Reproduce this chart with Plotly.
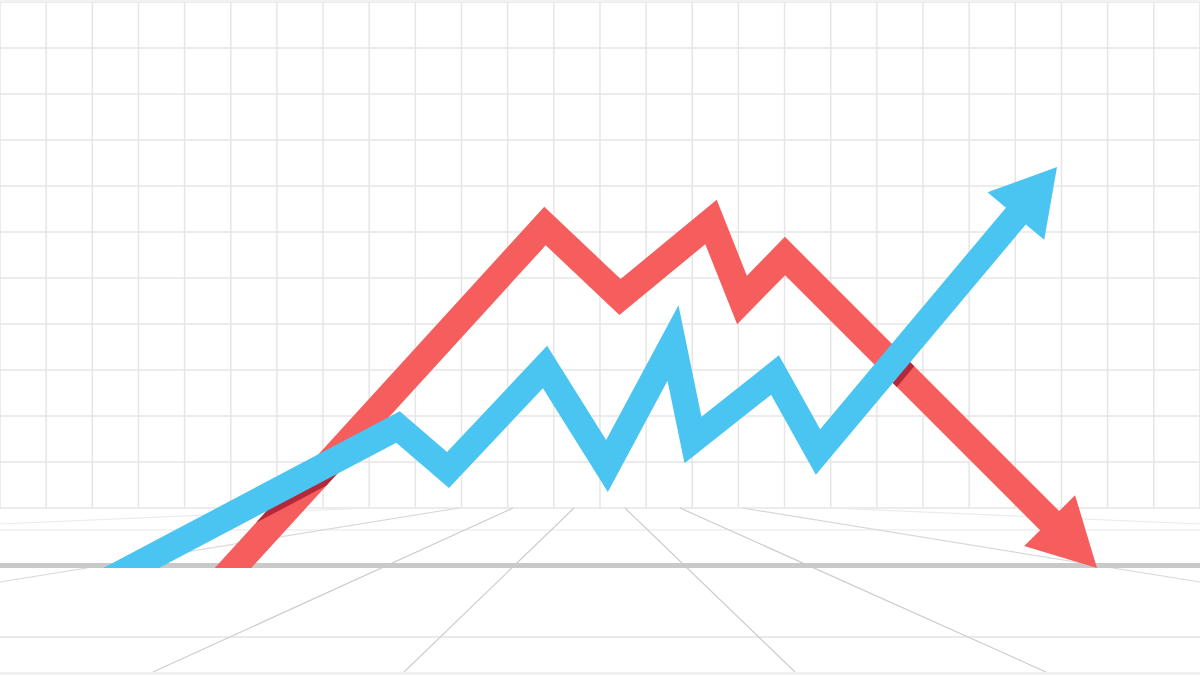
import numpy as np
import plotly.graph_objects as go

# ---------------- data (x in px from left, value = height above the floor line) ----------------
red_x = [233, 545, 620, 711, 742, 785, 1097]
red_y = [0, 342, 271, 346, 268, 312, 0]

blue_x = [131, 398, 448, 545, 607, 673, 693, 775, 818, 1057]
blue_y = [0, 141, 98, 201, 102, 225, 128, 193, 116, 401]

# wall grid
grid_dx = 46.15
grid_dy = 46
horizon = 60
top = 568
bottom = -107

# floor perspective segments ((x0, y0), (x1, y1))
floor_steep = [((153, -104), (513, 60)), ((404, -104), (574, 60)),
               ((795, -104), (625, 60)), ((1046, -104), (680, 60))]
floor_shallow = [((0, -14), (459, 60)), ((742, 60), (1200, -14))]
floor_faint = [((0, 44), (370, 60)), ((830, 60), (1200, 44))]

RED = "#F65D5D"
BLUE = "#4AC4F0"
SHADOW = "#B3293A"
GRID = "#E6E6E6"


def ribbon(xs, ys, w, head_len, head_half):
    P = np.column_stack([xs, ys]).astype(float)
    tip = P[-1].copy()
    d_last = P[-1] - P[-2]
    d_last /= np.linalg.norm(d_last)
    base = tip - d_last * head_len
    C = np.vstack([P[:-1], base])
    h = w / 2
    dirs = []
    for i in range(len(C) - 1):
        d = C[i + 1] - C[i]
        dirs.append(d / np.linalg.norm(d))
    normals = [np.array([-d[1], d[0]]) for d in dirs]

    def side(sign):
        pts = []
        d0 = dirs[0]
        p = C[0] + normals[0] * sign * h
        t = -p[1] / d0[1]
        pts.append(p + t * d0)
        for i in range(1, len(C) - 1):
            a = C[i] + normals[i - 1] * sign * h
            b = C[i] + normals[i] * sign * h
            M = np.column_stack([dirs[i - 1], -dirs[i]])
            s, _ = np.linalg.solve(M, b - a)
            pts.append(a + s * dirs[i - 1])
        pts.append(C[-1] + normals[-1] * sign * h)
        return pts

    L = side(1)
    R = side(-1)
    nl = normals[-1]
    poly = L + [base + nl * head_half, tip, base - nl * head_half] + R[::-1]
    quads = []
    for i in range(len(C) - 1):
        n = normals[i] * h
        quads.append([C[i] + n, C[i + 1] + n, C[i + 1] - n, C[i] - n])
    return np.array(poly), quads


def cross(a, b):
    return a[0] * b[1] - a[1] * b[0]


def clip(subject, clipper):
    clipper = list(clipper)
    area = sum(cross(clipper[i], clipper[(i + 1) % len(clipper)]) for i in range(len(clipper)))
    if area < 0:
        clipper = clipper[::-1]
    out = list(subject)
    for i in range(len(clipper)):
        A = clipper[i]
        B = clipper[(i + 1) % len(clipper)]
        inp = out
        out = []
        if not inp:
            break
        ins = lambda P: cross(B - A, P - A) >= 0

        def inter(S, E):
            t = -cross(B - A, S - A) / cross(B - A, E - S)
            return S + t * (E - S)
        S = inp[-1]
        for E in inp:
            if ins(E):
                if not ins(S):
                    out.append(inter(S, E))
                out.append(E)
            elif ins(S):
                out.append(inter(S, E))
            S = E
    return out


red_poly, red_quads = ribbon(red_x, red_y, 27, 67, 36)
blue_poly, blue_quads = ribbon(blue_x, blue_y, 26, 64, 37)

fig = go.Figure()

# wall grid
gx, gy = [], []
for k in range(0, 27):
    x = k * grid_dx
    gx += [x, x, None]
    gy += [horizon, top + 2, None]
for k in range(0, 12):
    y = horizon + k * grid_dy
    gx += [-10, 1210, None]
    gy += [y, y, None]
fig.add_trace(go.Scatter(x=gx, y=gy, mode="lines", line=dict(color=GRID, width=1.5),
                         hoverinfo="skip", showlegend=False))

# top band
fig.add_trace(go.Scatter(x=[-10, 1210, 1210, -10], y=[top - 2, top - 2, top + 2, top + 2], fill="toself",
                         fillcolor="#F2F2F2", line=dict(width=0), mode="lines",
                         hoverinfo="skip", showlegend=False))


def seg_trace(segs, color, width):
    xs, ys = [], []
    for (a, b) in segs:
        xs += [a[0], b[0], None]
        ys += [a[1], b[1], None]
    return go.Scatter(x=xs, y=ys, mode="lines", line=dict(color=color, width=width),
                      hoverinfo="skip", showlegend=False)


fig.add_trace(seg_trace([((-10, 38), (1210, 38))], "#EFEFEF", 1.5))
fig.add_trace(seg_trace(floor_faint, "#EBEBEB", 1.2))
fig.add_trace(seg_trace(floor_shallow, "#D9D9D9", 1.2))
fig.add_trace(seg_trace(floor_steep, "#CDCDCD", 1.2))
fig.add_trace(seg_trace([((-10, -69), (1210, -69))], "#D6D6D6", 1.2))
# ground band
fig.add_trace(go.Scatter(x=[-10, 1210, 1210, -10], y=[0, 0, 5, 5], fill="toself", fillcolor="#C9C9C9",
                         line=dict(width=0), mode="lines", hoverinfo="skip", showlegend=False))
# bottom band
fig.add_trace(go.Scatter(x=[-10, 1210, 1210, -10], y=[bottom - 10, bottom - 10, -104, -104], fill="toself",
                         fillcolor="#F1F1F1", line=dict(width=0), mode="lines",
                         hoverinfo="skip", showlegend=False))

# red arrow
fig.add_trace(go.Scatter(x=red_poly[:, 0], y=red_poly[:, 1], fill="toself", fillcolor=RED,
                         line=dict(width=0, color=RED), mode="lines", hoverinfo="skip",
                         showlegend=False, name="red"))

# shadow of blue on red
shift = np.array([4.0, -4.0])
for bq in blue_quads:
    sq = [p + shift for p in bq]
    for rq in red_quads:
        res = clip(sq, rq)
        if len(res) >= 3:
            arr = np.array(res)
            fig.add_trace(go.Scatter(x=arr[:, 0], y=arr[:, 1], fill="toself", fillcolor=SHADOW,
                                     line=dict(width=0, color=SHADOW), mode="lines",
                                     hoverinfo="skip", showlegend=False))

# blue arrow
fig.add_trace(go.Scatter(x=blue_poly[:, 0], y=blue_poly[:, 1], fill="toself", fillcolor=BLUE,
                         line=dict(width=0, color=BLUE), mode="lines", hoverinfo="skip",
                         showlegend=False, name="blue"))

fig.update_layout(
    width=1200, height=675,
    margin=dict(l=0, r=0, t=0, b=0),
    paper_bgcolor="white", plot_bgcolor="white",
    xaxis=dict(range=[0, 1200], visible=False, fixedrange=True),
    yaxis=dict(range=[bottom, top], visible=False, fixedrange=True),
    showlegend=False,
)

fig.write_html("out.html", config={"displayModeBar": False},
               post_script="document.body.style.margin='0';document.body.style.overflow='hidden';")
